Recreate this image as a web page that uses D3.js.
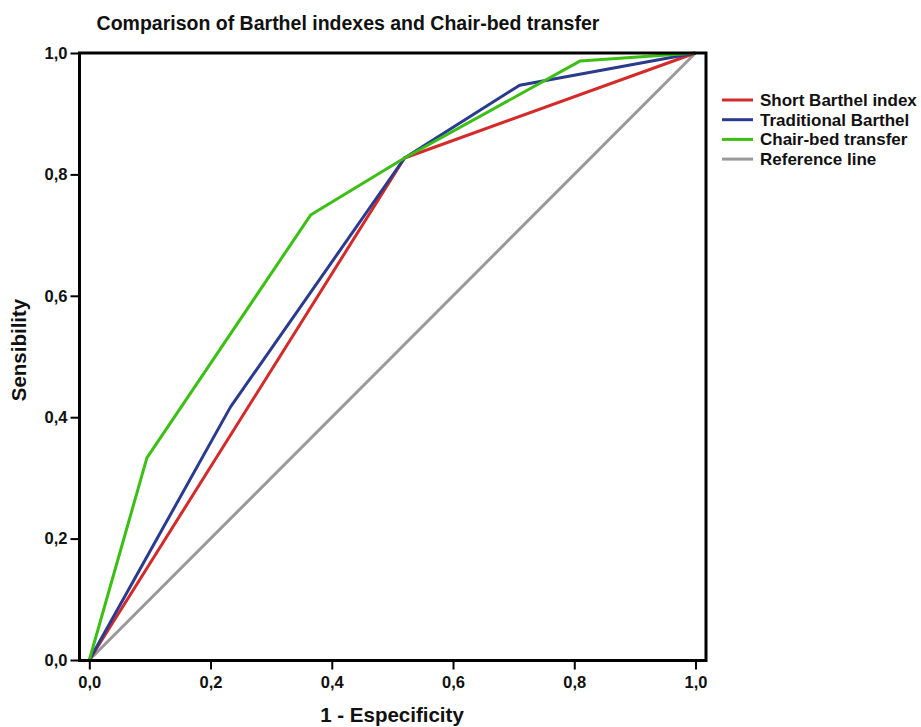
<!DOCTYPE html>
<html>
<head>
<meta charset="utf-8">
<script src="https://cdn.jsdelivr.net/npm/d3@7"></script>
<style>
  body { margin: 0; background: #fff; }
  text { font-family: "Liberation Sans", Arial, sans-serif; }
</style>
</head>
<body>
<svg width="921" height="727"></svg>
<script>
// ROC curve points (1 - specificity, sensitivity)
const seriesNames = ["Short Barthel index", "Traditional Barthel", "Chair-bed transfer", "Reference line"];
const seriesColors = ["#d42a2a", "#2a3b8f", "#3cbf14", "#999999"];
const shortX = [0, 0.52, 1];
const shortY = [0, 0.827, 1];
const tradX = [0, 0.233, 0.52, 0.71, 1];
const tradY = [0, 0.417, 0.827, 0.947, 1];
const chairX = [0, 0.095, 0.365, 0.52, 0.81, 1];
const chairY = [0, 0.333, 0.733, 0.827, 0.987, 1];
const refX = [0, 1];
const refY = [0, 1];
const tickValues = [0, 0.2, 0.4, 0.6, 0.8, 1.0];

const series = [
  shortX.map((x, i) => [x, shortY[i]]),
  tradX.map((x, i) => [x, tradY[i]]),
  chairX.map((x, i) => [x, chairY[i]]),
  refX.map((x, i) => [x, refY[i]])
];

const svg = d3.select("svg");
const frame = {left: 79.5, top: 53, right: 706, bottom: 660.5};

const x = d3.scaleLinear().domain([0, 1]).range([89.3, 695.5]);
const y = d3.scaleLinear().domain([0, 1]).range([660, 53]);
const fmt = d => d3.format(".1f")(d).replace(".", ",");

// title
svg.append("text")
  .attr("x", 348).attr("y", 30)
  .attr("text-anchor", "middle")
  .style("font-size", "19.5px")
  .style("font-weight", "bold")
  .style("fill", "#111")
  .text("Comparison of Barthel indexes and Chair-bed transfer");

// lines: reference first so others sit on top
const line = d3.line().x(d => x(d[0])).y(d => y(d[1]));
[3, 0, 1, 2].forEach(i => {
  svg.append("path")
    .datum(series[i])
    .attr("d", line)
    .attr("fill", "none")
    .attr("stroke", seriesColors[i])
    .attr("stroke-width", 3)
    .attr("stroke-linejoin", "round");
});

// frame
svg.append("rect")
  .attr("x", frame.left).attr("y", frame.top)
  .attr("width", frame.right - frame.left)
  .attr("height", frame.bottom - frame.top)
  .attr("fill", "none")
  .attr("stroke", "#000")
  .attr("stroke-width", 3);

// x axis
const xAxis = svg.append("g")
  .attr("transform", `translate(0,${frame.bottom})`)
  .call(d3.axisBottom(x).tickValues(tickValues).tickFormat(fmt).tickSize(9).tickPadding(7));
xAxis.select(".domain").remove();
xAxis.selectAll(".tick line").attr("stroke-width", 2);
xAxis.selectAll(".tick text")
  .style("font-size", "16.5px").style("font-weight", "bold")
  .style("font-family", "'Liberation Sans', Arial, sans-serif").attr("fill", "#111");

// y axis
const yAxis = svg.append("g")
  .attr("transform", `translate(${frame.left},0)`)
  .call(d3.axisLeft(y).tickValues(tickValues).tickFormat(fmt).tickSize(9).tickPadding(3));
yAxis.select(".domain").remove();
yAxis.selectAll(".tick line").attr("stroke-width", 2);
yAxis.selectAll(".tick text")
  .style("font-size", "16.5px").style("font-weight", "bold")
  .style("font-family", "'Liberation Sans', Arial, sans-serif").attr("fill", "#111");

// axis titles
svg.append("text")
  .attr("x", 392).attr("y", 722)
  .attr("text-anchor", "middle")
  .style("font-size", "20.5px").style("font-weight", "bold")
  .style("fill", "#111")
  .text("1 - Especificity");

svg.append("text")
  .attr("transform", "translate(26,350) rotate(-90)")
  .attr("text-anchor", "middle")
  .style("font-size", "20.5px").style("font-weight", "bold")
  .style("fill", "#111")
  .text("Sensibility");

// legend
const legend = svg.append("g").attr("transform", "translate(722,100)");
seriesNames.forEach((name, i) => {
  const row = legend.append("g").attr("transform", `translate(0,${i * 19.7})`);
  row.append("line")
    .attr("x1", 0).attr("x2", 31)
    .attr("stroke", seriesColors[i]).attr("stroke-width", 3);
  row.append("text")
    .attr("x", 38).attr("y", 6)
    .style("font-size", "17px").style("font-weight", "bold")
    .style("fill", "#111")
    .text(name);
});
</script>
</body>
</html>
